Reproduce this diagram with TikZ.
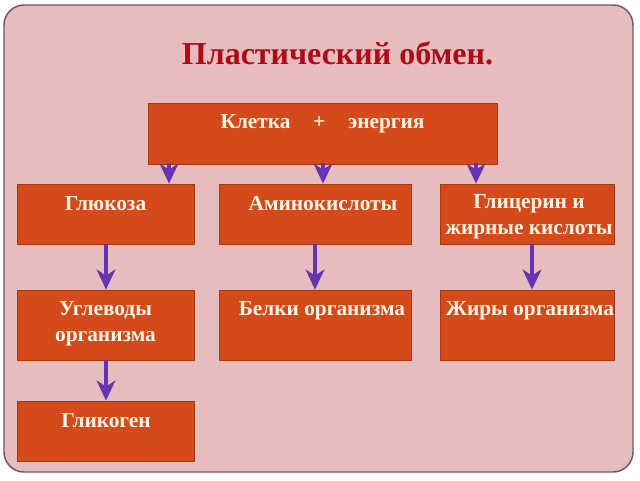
\documentclass[tikz,border=0pt]{standalone}
\usepackage{fontspec}
\setmainfont{Liberation Serif}
\usetikzlibrary{arrows.meta}
\definecolor{bgpink}{HTML}{E6BCBF}
\definecolor{framec}{HTML}{6E5A5C}
\definecolor{boxc}{HTML}{D44A1A}
\definecolor{boxedge}{HTML}{A8380F}
\definecolor{txtc}{HTML}{FFF3E4}
\definecolor{titlec}{HTML}{B00A14}
\definecolor{arrc}{HTML}{6634B0}
\tikzset{
  box/.style={fill=boxc, draw=boxedge, line width=0.6pt, inner sep=0pt},
  lbl/.style={text=txtc, font=\fontsize{16pt}{19.5pt}\selectfont\bfseries, align=center, inner sep=0pt},
  arr/.style={draw=arrc, line width=2.8pt, -{Stealth[length=15pt, width=14pt, inset=4.5pt]}},
  tarr/.style={draw=arrc, line width=2.8pt, -{Stealth[length=15pt, width=14pt, inset=4.5pt]}, shorten <=-1pt}
}
\begin{document}
\begin{tikzpicture}[x=0.75pt, y=-0.75pt]
\useasboundingbox (0,0) rectangle (640,480);
\fill[white] (0,0) rectangle (640,480);
\draw[fill=bgpink, draw=framec, line width=1.1pt, rounded corners=15pt] (4,5) rectangle (633,472);

\node[text=titlec, font=\fontsize{24pt}{28pt}\selectfont\bfseries, inner sep=0pt] (title) at (337.5,53) {Пластический обмен.};

\node[box, minimum width=261.75pt, minimum height=45.75pt] (top) at (322.5,133.5) {};
\node[box, minimum width=132.75pt, minimum height=45pt] (glu) at (105.5,214) {};
\node[box, minimum width=144pt, minimum height=45pt] (ami) at (315,214) {};
\node[box, minimum width=130.5pt, minimum height=45pt] (gli) at (527,214) {};
\node[box, minimum width=132.75pt, minimum height=52.5pt] (ugl) at (105.5,325) {};
\node[box, minimum width=144pt, minimum height=52.5pt] (bel) at (315,325) {};
\node[box, minimum width=130.5pt, minimum height=52.5pt] (zhi) at (527,325) {};
\node[box, minimum width=132.75pt, minimum height=45pt] (gly) at (105.5,431) {};

\node[lbl] (ttop) at (322.5,124) {Клетка\hspace{17pt}+\hspace{17pt}энергия};
\node[lbl] (tglu) at (105.5,204) {Глюкоза};
\node[lbl] (tami) at (323,204) {Аминокислоты};
\node[lbl] (tgli) at (529,217) {Глицерин и\\жирные кислоты};
\node[lbl] (tugl) at (105.5,323.5) {Углеводы\\организма};
\node[lbl] (tbel) at (322,311) {Белки организма};
\node[lbl] (tzhi) at (530,311) {Жиры организма};
\node[lbl] (tgly) at (106,421) {Гликоген};

\coordinate (c1) at (169,0);
\coordinate (c2) at (323,0);
\coordinate (c3) at (476,0);
\coordinate (c4) at (106,0);
\coordinate (c5) at (532,0);

\draw[tarr] (top.south -| c1) -- (glu.north -| c1);
\draw[tarr] (top.south -| c2) -- (ami.north -| c2);
\draw[tarr] (top.south -| c3) -- (gli.north -| c3);
\draw[arr] (glu.south -| c4) -- (ugl.north -| c4);
\draw[arr] (ami.south) -- (bel.north);
\draw[arr] (gli.south -| c5) -- (zhi.north -| c5);
\draw[arr] (ugl.south -| c4) -- (gly.north -| c4);
\end{tikzpicture}
\end{document}
